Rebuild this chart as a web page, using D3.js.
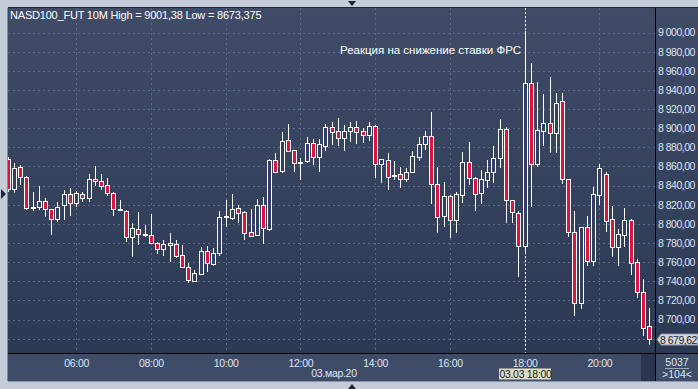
<!DOCTYPE html>
<meta charset="utf-8">
<style>
  body { margin: 0; background: #c4ccd8; }
  svg { display: block; font-family: "Liberation Sans", Arial, sans-serif; }
  .grid line { stroke: #5a6a8c; stroke-dasharray: 2,3; }
</style>
<body>
<div id="chart"></div>
<script src="https://cdn.jsdelivr.net/npm/d3@7"></script>
<script>

// 10 minute bars, 03.03.2020 from 04:10 to 21:20
var firstBar = new Date(2020, 2, 3, 4, 10);
var barMinutes = 10;

var opens = [8867.4, 8836.1, 8859.0, 8849.3, 8816.5, 8817.3, 8823.9, 8815.2, 8804.7, 8819.4,
  8830.9, 8821.5, 8830.9, 8826.7, 8846.5, 8844.5, 8840.3, 8831.9, 8815.2, 8813.7,
  8785.9, 8794.3, 8789.1, 8788.0, 8779.6, 8773.4, 8777.5, 8778.6, 8767.1, 8754.6,
  8740.6, 8747.6, 8771.9, 8757.7, 8769.8, 8807.5, 8805.8, 8816.2, 8812.1, 8791.1,
  8788.6, 8819.4, 8794.9, 8866.4, 8855.2, 8887.3, 8876.9, 8864.5, 8866.0, 8884.2,
  8869.5, 8881.7, 8900.9, 8896.7, 8890.0, 8897.4, 8900.9, 8896.7, 8893.2, 8902.0,
  8862.2, 8866.4, 8851.0, 8852.1, 8846.5, 8854.5, 8870.2, 8883.6, 8891.8, 8841.3,
  8807.9, 8829.1, 8804.0, 8830.1, 8864.3, 8847.6, 8832.5, 8845.8, 8853.9, 8868.5,
  8898.8, 8824.6, 8811.6, 8776.8, 8947.5, 8862.5, 8897.4, 8905.1, 8895.3, 8928.1,
  8846.5, 8791.8, 8716.9, 8796.4, 8760.8, 8829.8, 8851.8, 8804.7, 8776.1, 8788.3,
  8804.0, 8759.8, 8729.0, 8693.2];

var highs = [8870.0, 8863.3, 8861.5, 8850.5, 8833.6, 8839.5, 8826.7, 8816.0, 8822.5, 8835.4,
  8837.1, 8834.7, 8833.6, 8852.1, 8860.5, 8852.1, 8847.6, 8833.0, 8824.9, 8814.5,
  8800.6, 8812.4, 8798.8, 8810.0, 8780.5, 8783.1, 8790.1, 8783.1, 8778.0, 8758.7,
  8751.7, 8776.1, 8776.8, 8774.4, 8813.7, 8824.9, 8831.2, 8819.7, 8813.0, 8815.5,
  8826.0, 8828.0, 8867.4, 8873.7, 8896.0, 8904.4, 8877.5, 8869.1, 8890.5, 8888.7,
  8888.7, 8904.4, 8906.4, 8910.3, 8903.3, 8906.1, 8907.5, 8900.2, 8906.4, 8903.0,
  8867.8, 8873.7, 8865.7, 8859.7, 8858.0, 8876.4, 8890.5, 8896.7, 8916.6, 8859.7,
  8844.0, 8830.0, 8833.6, 8875.1, 8885.9, 8848.5, 8856.3, 8866.7, 8881.4, 8909.6,
  8900.9, 8825.0, 8813.7, 9001.38, 8967.8, 8948.6, 8935.7, 8953.8, 8937.1, 8937.1,
  8847.0, 8813.7, 8797.0, 8808.5, 8838.8, 8862.5, 8854.5, 8819.0, 8794.3, 8816.2,
  8804.7, 8763.2, 8742.0, 8711.7];

var lows = [8833.0, 8832.5, 8840.6, 8814.5, 8813.7, 8814.5, 8807.5, 8788.3, 8802.2, 8804.0,
  8808.2, 8817.9, 8823.1, 8823.1, 8839.5, 8835.4, 8829.4, 8808.5, 8813.7, 8781.3,
  8765.0, 8777.6, 8786.6, 8778.9, 8768.2, 8766.7, 8760.4, 8764.0, 8754.6, 8738.5,
  8739.5, 8746.5, 8750.0, 8756.2, 8766.4, 8797.0, 8804.0, 8801.2, 8783.1, 8786.6,
  8788.0, 8778.9, 8792.8, 8852.8, 8853.4, 8875.4, 8854.5, 8845.8, 8863.3, 8861.5,
  8854.5, 8876.1, 8882.4, 8881.4, 8876.4, 8885.5, 8883.4, 8884.8, 8886.9, 8848.2,
  8843.0, 8835.4, 8845.8, 8837.8, 8844.0, 8853.4, 8866.0, 8877.2, 8820.7, 8790.7,
  8797.0, 8784.9, 8790.1, 8822.1, 8840.6, 8813.7, 8820.4, 8837.1, 8842.4, 8858.0,
  8801.2, 8800.6, 8744.1, 8770.0, 8817.9, 8859.7, 8881.4, 8873.7, 8873.7, 8841.6,
  8785.9, 8703.6, 8711.3, 8755.9, 8755.9, 8819.7, 8791.8, 8765.6, 8755.9, 8776.1,
  8746.5, 8722.8, 8682.8, 8673.375];

var closes = [8836.1, 8858.0, 8848.6, 8816.2, 8817.5, 8823.9, 8815.2, 8804.7, 8817.9, 8830.9,
  8821.5, 8831.9, 8826.7, 8846.5, 8844.5, 8839.5, 8831.9, 8815.2, 8814.1, 8785.9,
  8795.3, 8789.1, 8789.6, 8779.6, 8773.4, 8778.6, 8779.6, 8766.4, 8755.2, 8741.3,
  8748.3, 8771.9, 8758.7, 8769.2, 8807.5, 8808.5, 8815.2, 8811.0, 8790.7, 8787.6,
  8819.4, 8795.3, 8866.4, 8854.5, 8886.3, 8876.4, 8863.3, 8865.0, 8884.2, 8869.5,
  8883.4, 8900.9, 8896.3, 8889.4, 8896.7, 8900.9, 8896.3, 8893.2, 8902.0, 8862.2,
  8867.4, 8849.3, 8851.5, 8846.5, 8853.9, 8870.6, 8883.4, 8891.8, 8841.3, 8807.5,
  8829.1, 8804.0, 8831.2, 8864.3, 8848.2, 8831.2, 8846.5, 8853.9, 8868.5, 8898.8,
  8824.9, 8812.1, 8776.8, 8947.5, 8862.5, 8898.1, 8905.1, 8895.3, 8926.0, 8846.5,
  8791.8, 8716.9, 8796.4, 8760.8, 8830.9, 8858.4, 8803.3, 8776.1, 8789.1, 8804.0,
  8758.7, 8729.0, 8690.8, 8679.62];

var priceTicks = [8680, 8700, 8720, 8740, 8760, 8780, 8800, 8820, 8840, 8860, 8880, 8900, 8920, 8940, 8960, 8980, 9000];
var cursorTime = new Date(2020, 2, 3, 18, 0);
var noteText = "Реакция на снижение ставки ФРС";
var barCount = 5037;

var W = 698, H = 389;
var plot = { left: 8, top: 8, right: 655, bottom: 353 };

var bars = opens.map(function (o, i) {
  return {
    t: new Date(firstBar.getTime() + i * barMinutes * 60000),
    o: o, h: highs[i], l: lows[i], c: closes[i]
  };
});

var x = d3.scaleTime()
  .domain([bars[0].t, bars[bars.length - 1].t])
  .range([7.6, 649.2]);

var y = d3.scaleLinear()
  .domain([8700, 9000])
  .range([319.5, 32.5]);

// "9 000,00" style numbers
function ru(v, digits) {
  return d3.format(",." + digits + "f")(v).replace(/,/g, " ").replace(".", ",");
}
// "9001,38" style, no grouping
function plain(v) {
  return String(v).replace(".", ",");
}

var svg = d3.select("#chart").append("svg")
  .attr("width", W).attr("height", H);

var defs = svg.append("defs");
var grad = defs.append("linearGradient").attr("id", "bg")
  .attr("x1", 0).attr("y1", 0).attr("x2", 0).attr("y2", 1);
grad.append("stop").attr("offset", "0%").attr("stop-color", "#3f4b67");
grad.append("stop").attr("offset", "100%").attr("stop-color", "#2c3955");

defs.append("clipPath").attr("id", "clip")
  .append("rect")
  .attr("x", plot.left).attr("y", plot.top)
  .attr("width", plot.right - plot.left).attr("height", plot.bottom - plot.top);

// frame
svg.append("rect").attr("width", W).attr("height", H).attr("fill", "#c4ccd8");
svg.append("rect").attr("x", plot.left).attr("y", plot.top)
  .attr("width", W - plot.left).attr("height", plot.bottom - plot.top)
  .attr("fill", "url(#bg)");
svg.append("rect").attr("x", plot.left).attr("y", plot.bottom)
  .attr("width", W - plot.left).attr("height", 28)
  .attr("fill", "#3f4c68");
svg.append("rect").attr("x", 641).attr("y", plot.bottom + 1)
  .attr("width", 14).attr("height", 27).attr("fill", "#2a3650");

// grid
var grid = svg.append("g").attr("class", "grid").attr("clip-path", "url(#clip)");
grid.selectAll(".h").data(priceTicks).enter().append("line")
  .attr("x1", plot.left).attr("x2", plot.right)
  .attr("y1", function (d) { return Math.round(y(d)) + 0.5; })
  .attr("y2", function (d) { return Math.round(y(d)) + 0.5; });
grid.selectAll(".v").data(x.ticks(d3.timeHour.every(2))).enter().append("line")
  .attr("x1", function (d) { return Math.round(x(d)) + 0.5; })
  .attr("x2", function (d) { return Math.round(x(d)) + 0.5; })
  .attr("y1", plot.top).attr("y2", plot.bottom);

// cursor line
svg.append("line")
  .attr("x1", Math.round(x(cursorTime)) + 0.5).attr("x2", Math.round(x(cursorTime)) + 0.5)
  .attr("y1", plot.top).attr("y2", plot.bottom)
  .attr("stroke", "#ffffff").attr("stroke-dasharray", "2,2");

// candles
var candles = svg.append("g").attr("clip-path", "url(#clip)")
  .selectAll("g").data(bars).enter().append("g");

candles.append("line")
  .attr("x1", function (d) { return Math.round(x(d.t)) + 0.5; })
  .attr("x2", function (d) { return Math.round(x(d.t)) + 0.5; })
  .attr("y1", function (d) { return Math.round(y(d.h)); })
  .attr("y2", function (d) { return Math.round(y(d.l)); })
  .attr("stroke", "#ffffff");

candles.append("rect")
  .attr("x", function (d) { return Math.round(x(d.t)) - 1.5; })
  .attr("y", function (d) { return Math.round(y(Math.max(d.o, d.c))) + 0.5; })
  .attr("width", 4)
  .attr("height", function (d) { return Math.max(1, Math.round(y(Math.min(d.o, d.c))) - Math.round(y(Math.max(d.o, d.c)))); })
  .attr("fill", function (d) { return d.c < d.o ? "#e0123e" : "#334060"; })
  .attr("stroke", "#ffffff");

// separators
svg.append("line").attr("x1", plot.right + 0.5).attr("x2", plot.right + 0.5)
  .attr("y1", plot.top).attr("y2", 381).attr("stroke", "#000");
svg.append("line").attr("x1", plot.left).attr("x2", W)
  .attr("y1", plot.bottom + 0.5).attr("y2", plot.bottom + 0.5).attr("stroke", "#000");
svg.append("line").attr("x1", plot.left - 0.5).attr("x2", plot.left - 0.5)
  .attr("y1", plot.top).attr("y2", 381).attr("stroke", "#7d8aa0");
svg.append("line").attr("x1", plot.left).attr("x2", W)
  .attr("y1", plot.top - 0.5).attr("y2", plot.top - 0.5).attr("stroke", "#1c2436");
svg.append("line").attr("x1", plot.left).attr("x2", W)
  .attr("y1", 381.5).attr("y2", 381.5).attr("stroke", "#8a96aa");

// price axis
var yAxis = svg.append("g")
  .attr("transform", "translate(" + (plot.right + 2) + ",0)")
  .call(d3.axisRight(y).tickValues(priceTicks.filter(function (d) { return d >= 8700; }))
    .tickSize(0).tickFormat(function (d) { return ru(d, 2); }));
yAxis.select(".domain").remove();
yAxis.selectAll("text").attr("fill", "#dbe6f5").attr("font-size", "10.5px")
  .attr("font-family", "Liberation Sans, Arial, sans-serif").attr("x", 1).attr("letter-spacing", "-0.5");

// time axis
var xAxis = svg.append("g")
  .attr("transform", "translate(0," + (plot.bottom + 4) + ")")
  .call(d3.axisBottom(x).ticks(d3.timeHour.every(2)).tickSize(0)
    .tickFormat(d3.timeFormat("%H:%M")));
xAxis.select(".domain").remove();
xAxis.selectAll("text").attr("fill", "#dbe6f5").attr("font-size", "10.5px")
  .attr("font-family", "Liberation Sans, Arial, sans-serif").attr("letter-spacing", "-0.3");

svg.append("text").attr("x", 334).attr("y", 377).attr("text-anchor", "middle")
  .attr("fill", "#dbe6f5").attr("font-size", "10.5px").attr("letter-spacing", "-0.3")
  .text("03.мар.20");

// cursor time box
var cx = Math.round(x(cursorTime)) + 0.5;
svg.append("rect").attr("x", cx - 26.5).attr("y", 368.5).attr("width", 52).attr("height", 11)
  .attr("fill", "#dedcc4");
svg.append("text").attr("x", cx).attr("y", 378).attr("text-anchor", "middle")
  .attr("fill", "#1a1a1a").attr("font-size", "10.5px").attr("letter-spacing", "-0.3")
  .text(d3.timeFormat("%d.%m %H:%M")(cursorTime));

// last price label
var last = bars[bars.length - 1];
var ly = Math.round(y(last.c)) + 0.5;
svg.append("path")
  .attr("d", "M657," + ly + " L661," + (ly - 5.5) + " L698," + (ly - 5.5) + " L698," + (ly + 5.5) + " L661," + (ly + 5.5) + " Z")
  .attr("fill", "#d3d7de").attr("stroke", "#8a93a3");
svg.append("text").attr("x", 660).attr("y", ly + 4)
  .attr("fill", "#1f2530").attr("font-size", "10.5px").attr("letter-spacing", "-0.5")
  .text(ru(last.c, 2));

// bar counters
svg.append("text").attr("x", 677).attr("y", 366).attr("text-anchor", "middle")
  .attr("fill", "#dbe6f5").attr("font-size", "10.5px").text(barCount);
svg.append("line").attr("x1", 665).attr("x2", 689).attr("y1", 368.5).attr("y2", 368.5)
  .attr("stroke", "#9aa8c0");
svg.append("text").attr("x", 677).attr("y", 378).attr("text-anchor", "middle")
  .attr("fill", "#dbe6f5").attr("font-size", "10.5px").text(">" + bars.length + "<");

// header and note
svg.append("text").attr("x", 10).attr("y", 19)
  .attr("fill", "#ffffff").attr("font-size", "11px").attr("letter-spacing", "-0.2")
  .text("NASD100_FUT 10M High = " + plain(d3.max(highs)) + " Low = " + plain(d3.min(lows)));
svg.append("text").attr("x", 340).attr("y", 54)
  .attr("fill", "#ffffff").attr("font-size", "11.5px")
  .text(noteText);

// scroll markers
svg.append("path").attr("d", "M348,1 L356,1 L352,6 Z").attr("fill", "#1c2436");
svg.append("path").attr("d", "M348,389 L356,389 L352,384 Z").attr("fill", "#1c2436");
svg.append("path").attr("d", "M1,189 L6,194 L1,199 Z").attr("fill", "#1c2436");

</script>
</body>
